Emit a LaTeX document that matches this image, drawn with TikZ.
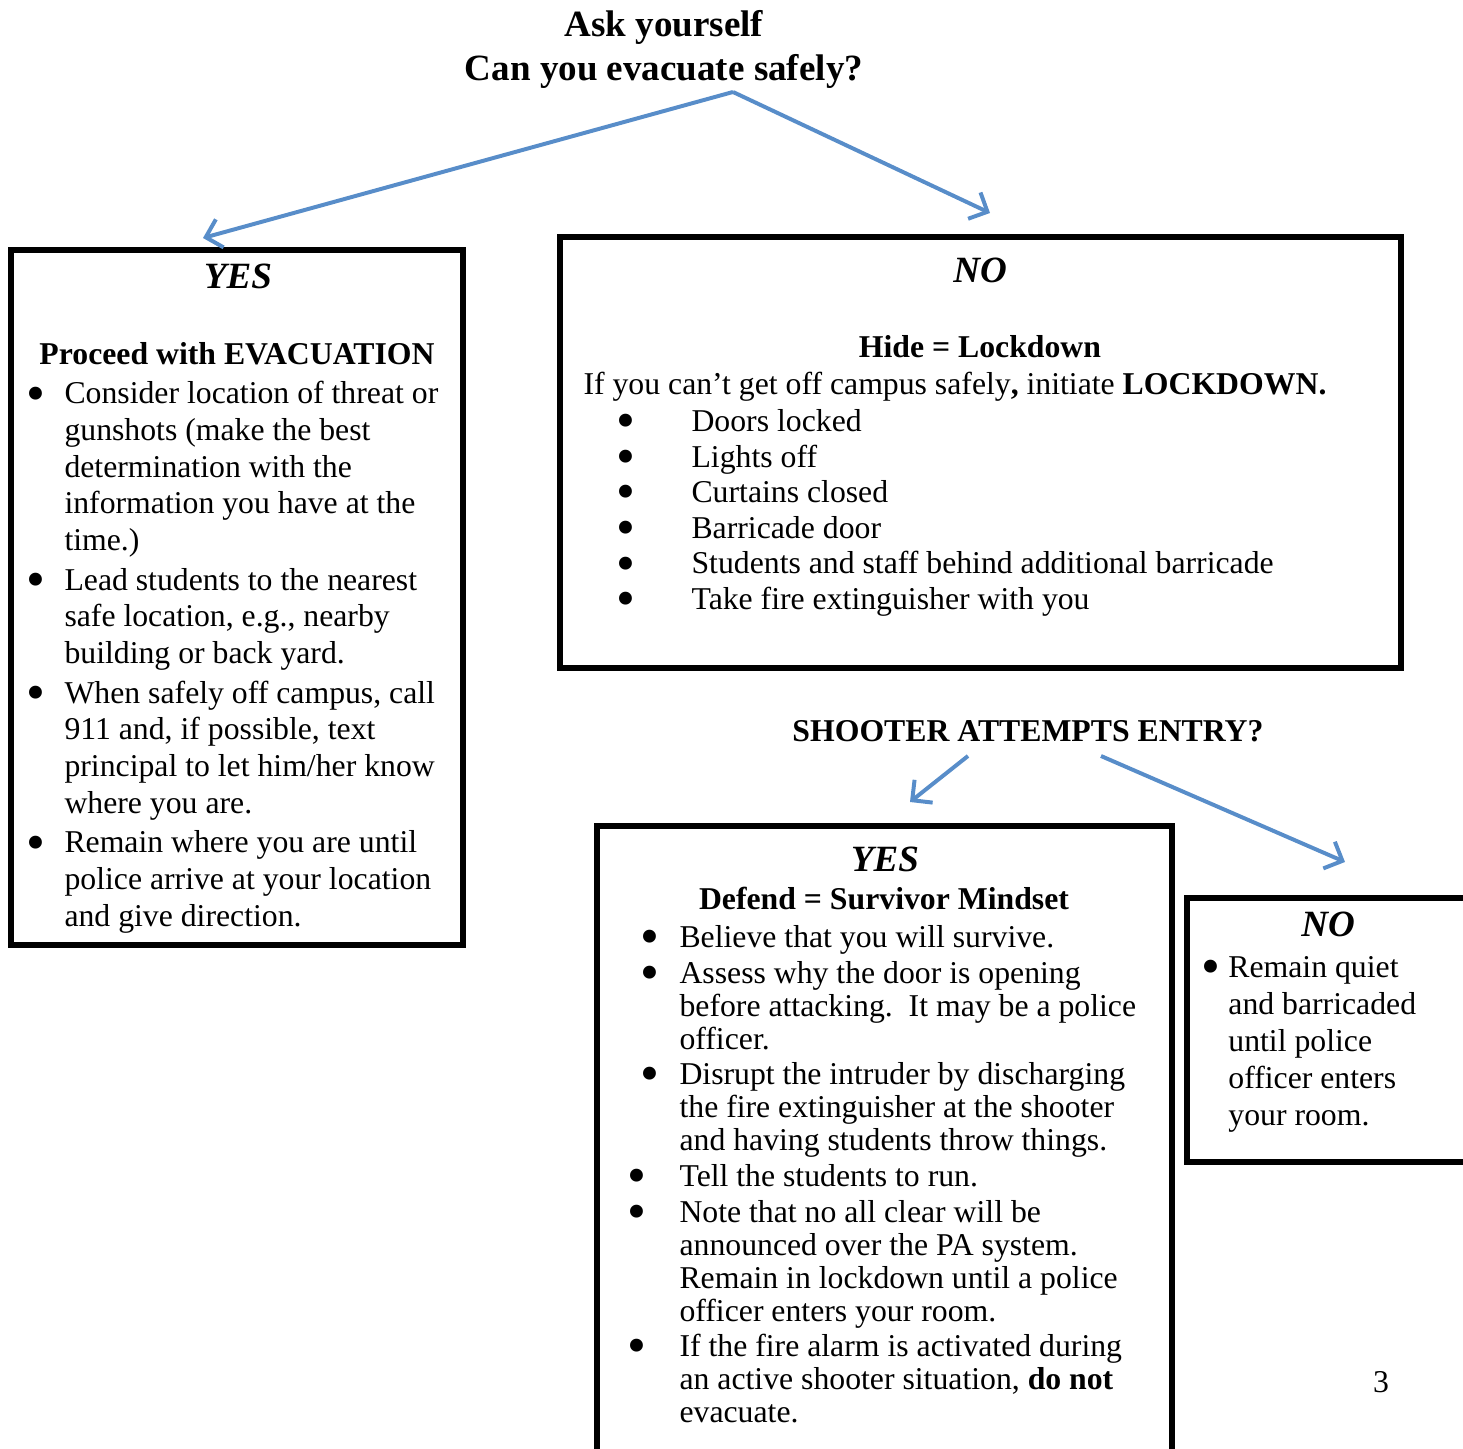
\documentclass[tikz,border=0pt]{standalone}
\usepackage{fontspec}
\setmainfont{Liberation Serif}
\usetikzlibrary{positioning, arrows.meta, fit}

\definecolor{flowblue}{RGB}{88,141,201}
\newcommand{\bul}[1]{\makebox[#1][l]{\hspace*{-1.5pt}\raisebox{-2.7pt}[0pt][0pt]{\scalebox{1.7}{\textbullet}}}}

\begin{document}
\begin{tikzpicture}[
    x=0.378pt, y=-0.378pt,
    >={Straight Barb[length=5.5pt, width=11pt]},
    panel/.style={draw=black, line width=1.9pt, inner sep=0pt},
    title/.style={font=\fontsize{14}{16.6}\selectfont\bfseries, align=center, inner sep=0pt},
    answer/.style={font=\fontsize{14}{16}\selectfont\bfseries\itshape, inner sep=0pt, anchor=base},
    lead/.style={font=\fontsize{12}{14}\selectfont\bfseries, inner sep=0pt, anchor=base},
    list/.style={align=left, inner sep=0pt, anchor=north west},
    flow/.style={->, draw=flowblue, line width=1.5pt}
]
\useasboundingbox (0,0) rectangle (1463,1449);
\clip (0,0) rectangle (1463,1449);

% Question
\node[title, anchor=north] (ask) at (664,10) {Ask yourself\\Can you evacuate safely?};

% Evacuation box
\node[panel, fit={(11,250) (463,945)}] (evac) {};
\node[answer] (evacyes) at (238,289) {YES};
\node[lead] (evachead) at (237,365) {Proceed with EVACUATION};
\node[list, font=\fontsize{12}{13.87}\selectfont] (evaclist) at (30.4,381) {%
  \bul{12.7pt}Consider location of threat or\\
  \hspace*{12.7pt}gunshots (make the best\\
  \hspace*{12.7pt}determination with the\\
  \hspace*{12.7pt}information you have at the\\
  \hspace*{12.7pt}time.)\\[1.1pt]
  \bul{12.7pt}Lead students to the nearest\\
  \hspace*{12.7pt}safe location, e.g., nearby\\
  \hspace*{12.7pt}building or back yard.\\[1.1pt]
  \bul{12.7pt}When safely off campus, call\\
  \hspace*{12.7pt}911 and, if possible, text\\
  \hspace*{12.7pt}principal to let him/her know\\
  \hspace*{12.7pt}where you are.\\[1.1pt]
  \bul{12.7pt}Remain where you are until\\
  \hspace*{12.7pt}police arrive at your location\\
  \hspace*{12.7pt}and give direction.};

% Lockdown box
\node[panel, fit={(560,237) (1401,668)}] (lockdown) {};
\node[answer] (lockno) at (980,283) {NO};
\node[lead] (lockhead) at (980,358) {Hide = Lockdown};
\node[anchor=base west, inner sep=0pt, font=\fontsize{12}{14}\selectfont] (lockintro) at (583,395)
  {If you can’t get off campus safely\textbf{,} initiate \textbf{LOCKDOWN.}};
\node[list, font=\fontsize{12}{13.45}\selectfont] (locklist) at (620.4,409) {%
  \bul{26.7pt}Doors locked\\
  \bul{26.7pt}Lights off\\
  \bul{26.7pt}Curtains closed\\
  \bul{26.7pt}Barricade door\\
  \bul{26.7pt}Students and staff behind additional barricade\\
  \bul{26.7pt}Take fire extinguisher with you};

% Second question
\node[lead] (entry) at (1028,742) {SHOOTER ATTEMPTS ENTRY?};

% Defend box
\node[panel, fit={(597,826) (1172,1500)}] (defend) {};
\node[answer] (defyes) at (885,872) {YES};
\node[lead] (defhead) at (884,910) {Defend = Survivor Mindset};
\node[list, font=\fontsize{12}{12.47}\selectfont] (deflist) at (631.4,925) {%
  \hspace*{4.9pt}\bul{13.1pt}Believe that you will survive.\\[1pt]
  \hspace*{4.9pt}\bul{13.1pt}Assess why the door is opening\\
  \hspace*{18pt}before attacking.\ \ It may be a police\\
  \hspace*{18pt}officer.\\[1pt]
  \hspace*{4.9pt}\bul{13.1pt}Disrupt the intruder by discharging\\
  \hspace*{18pt}the fire extinguisher at the shooter\\
  \hspace*{18pt}and having students throw things.\\[1pt]
  \bul{18pt}Tell the students to run.\\[1pt]
  \bul{18pt}Note that no all clear will be\\
  \hspace*{18pt}announced over the PA system.\\
  \hspace*{18pt}Remain in lockdown until a police\\
  \hspace*{18pt}officer enters your room.\\[1pt]
  \bul{18pt}If the fire alarm is activated during\\
  \hspace*{18pt}an active shooter situation, \textbf{do not}\\
  \hspace*{18pt}evacuate.};

% Stay quiet box
\node[panel, fit={(1187,898) (1520,1162)}] (quiet) {};
\node[answer] (quietno) at (1328,937) {NO};
\node[list, font=\fontsize{12}{14}\selectfont] (quietlist) at (1205.4,956) {%
  \bul{8.5pt}Remain quiet\\
  \hspace*{8.5pt}and barricaded\\
  \hspace*{8.5pt}until police\\
  \hspace*{8.5pt}officer enters\\
  \hspace*{8.5pt}your room.};

\node[anchor=base, inner sep=0pt, font=\fontsize{12}{14}\selectfont] (pagenum) at (1381,1393) {3};

% Arrows
\coordinate (askfork) at (733,92);
\coordinate (evactip) at (203,238);
\coordinate (locktip) at (990,213);
\coordinate (entryleft) at (968,756);
\coordinate (defendtip) at (910,802);
\coordinate (entryright) at (1101,756);
\coordinate (quiettip) at (1345,862);
\draw[flow] (askfork) -- (evactip);
\draw[flow] (askfork) -- (locktip);
\draw[flow] (entryleft) -- (defendtip);
\draw[flow] (entryright) -- (quiettip);

\end{tikzpicture}
\end{document}
